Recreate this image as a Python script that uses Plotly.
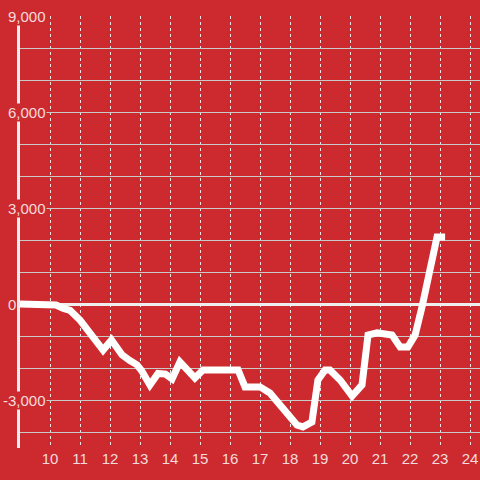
import plotly.graph_objects as go

# данные: время (часы) и значение
hours = [9.0, 10.0, 10.2, 10.45, 10.67, 11.0, 11.3, 11.77, 12.05, 12.4, 12.65, 12.9,
         13.05, 13.33, 13.6, 13.85, 14.07, 14.33, 14.83, 15.1, 15.5, 16.27, 16.5,
         17.0, 17.33, 17.77, 18.23, 18.43, 18.73, 18.93, 19.17, 19.33, 19.67,
         20.07, 20.4, 20.6, 20.9, 21.4, 21.67, 21.93, 22.17, 22.4, 22.57, 22.9, 23.17]
values = [0, 0, -30, -140, -200, -500, -900, -1440, -1125, -1590, -1760, -1900,
          -2080, -2530, -2170, -2190, -2340, -1810, -2310, -2060, -2060, -2060, -2590,
          -2590, -2780, -3310, -3780, -3840, -3690, -2375, -2060, -2060, -2375,
          -2875, -2530, -970, -900, -970, -1340, -1340, -970, -90, 750, 2090, 2090]

x_ticks = list(range(10, 25))
y_ticks = [9000, 6000, 3000, 0, -3000]
y_labels = ['9,000', '6,000', '3,000', '0', '-3,000']

bg = '#cc2a2f'
label_color = '#f3dcdc'

fig = go.Figure()

fig.add_trace(go.Scatter(
    x=hours, y=values,
    mode='lines',
    line=dict(color='white', width=7),
    showlegend=False,
    hoverinfo='skip'
))

# подписи оси Y с фоном, перекрывающим ось
for v, lab in zip(y_ticks, y_labels):
    fig.add_annotation(
        x=0, xref='paper', xanchor='left',
        xshift=-13 if v >= 0 else -18,
        y=v, yref='y', yanchor='middle',
        text=lab,
        showarrow=False,
        font=dict(family='Liberation Sans, Arial', size=15, color=label_color),
        bgcolor=bg, borderpad=0
    )

fig.update_layout(
    width=480, height=480,
    margin=dict(l=20, r=0, t=16, b=32),
    paper_bgcolor=bg, plot_bgcolor=bg,
    font=dict(family='Liberation Sans, Arial', size=15, color=label_color),
    xaxis=dict(
        range=[9, 24.333],
        tickvals=x_ticks,
        showgrid=True, gridcolor='#e8e8e8', gridwidth=1, griddash='dot',
        zeroline=False, showline=False, ticks='',
        tickfont=dict(size=15, color=label_color),
        fixedrange=True
    ),
    yaxis=dict(
        range=[-4500, 9000],
        dtick=1000, tick0=0,
        showticklabels=False,
        showgrid=True, gridcolor='#c9c9c9', gridwidth=1,
        zeroline=True, zerolinecolor='#eeeeee', zerolinewidth=3,
        showline=True, linecolor='#eeeeee', linewidth=3,
        ticks='',
        fixedrange=True
    ),
)

fig.write_html("out.html", config={'displayModeBar': False},
               post_script="document.body.style.margin='0';")
